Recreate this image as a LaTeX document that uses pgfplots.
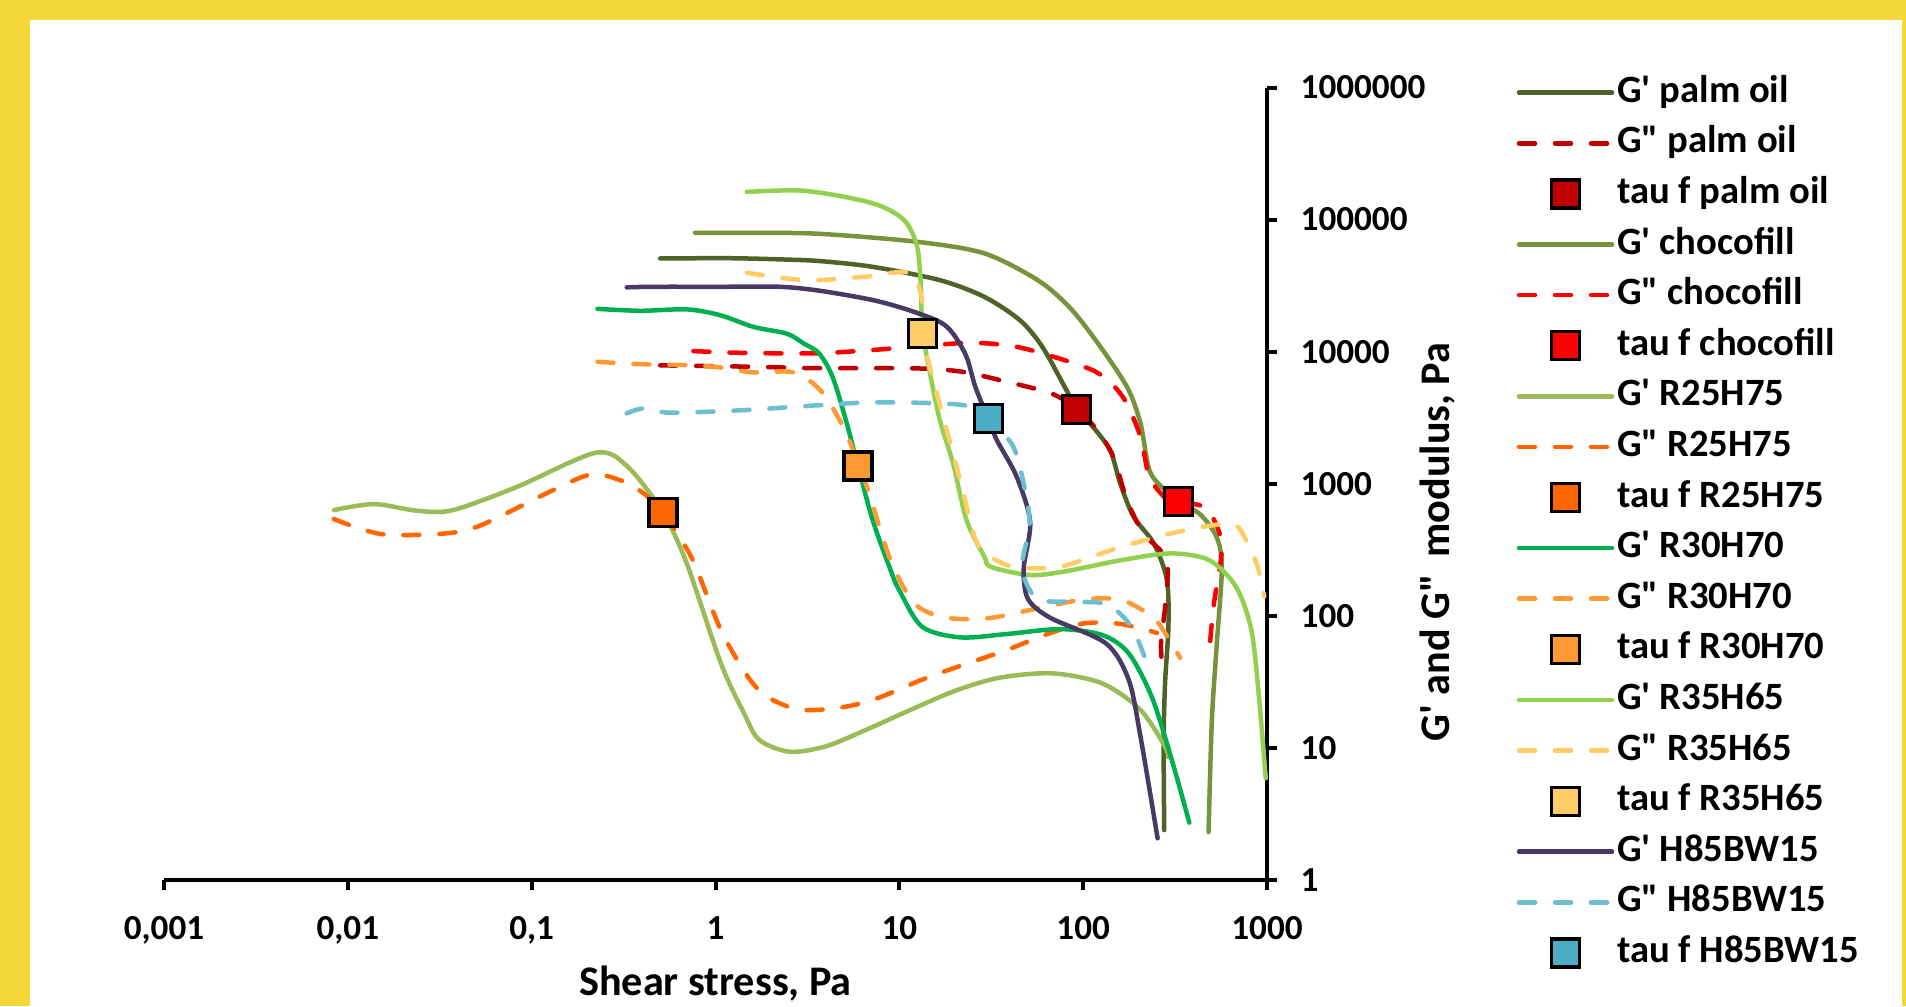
\documentclass[border=0pt]{standalone}
\usepackage{fontspec}
\setmainfont{Carlito}[Ligatures=TeXOff]
\usepackage{pgfplots}
\pgfplotsset{compat=1.18}

\definecolor{frame}{HTML}{F4D73A}
\definecolor{cPalm}{HTML}{4F6228}
\definecolor{cPalmD}{HTML}{C00000}
\definecolor{cChoco}{HTML}{77933C}
\definecolor{cChocoD}{HTML}{FF0000}
\definecolor{cRtwf}{HTML}{9BBB59}
\definecolor{cRtwfD}{HTML}{FF6600}
\definecolor{cRth}{HTML}{00B050}
\definecolor{cRthD}{HTML}{FF9933}
\definecolor{cRtf}{HTML}{92D050}
\definecolor{cRtfD}{HTML}{FFCC66}
\definecolor{cH}{HTML}{483A64}
\definecolor{cHD}{HTML}{6EBED2}
\definecolor{cHM}{HTML}{4BACC6}

\pgfplotsset{
  gp/.style={color=#1, line width=0.45mm, smooth, tension=0.5, no markers, line cap=round, line join=round},
  gpp/.style={color=#1, line width=0.45mm, smooth, tension=0.5, no markers, line cap=round, line join=round, dash pattern=on 1.6mm off 2.0mm},
  tau/.style={only marks, mark=square*, mark size=1.4mm,
    mark options={draw=black, fill=#1, line width=0.32mm, solid},
    legend image code/.code={\draw[mark repeat=2,mark phase=2,##1] plot coordinates {(0mm,0mm) (4.65mm,0mm) (9.3mm,0mm)};}},
}

\begin{document}
\begin{tikzpicture}
\path[use as bounding box] (0,0) rectangle (190.6mm,100.6mm);
\fill[frame] (0,0) rectangle (190.6mm,100.6mm);
\fill[white] (3mm,0) rectangle (190.2mm,98.6mm);
\begin{axis}[
  at={(16.4mm,12.6mm)}, anchor=south west,
  scale only axis, width=110.3mm, height=79.25mm,
  xmode=log, ymode=log,
  xmin=0.001, xmax=1000, ymin=1, ymax=1000000,
  axis x line=bottom, axis y line=right,
  axis line style={-, line width=0.4mm, black},
  xtick={0.001,0.01,0.1,1,10,100,1000},
  xticklabels={{0,001},{0,01},{0,1},1,10,100,1000},
  ytick={1,10,100,1000,10000,100000,1000000},
  yticklabels={1,10,100,1000,10000,100000,1000000},
  xminorticks=false, yminorticks=false,
  tick align=outside, major tick length=1mm,
  tick style={line width=0.4mm, black},
  ticklabel style={font=\fontsize{10}{12}\selectfont\bfseries},
  xticklabel style={anchor=north, inner sep=0pt, yshift=-2.6mm},
  yticklabel style={anchor=west, inner sep=0pt, xshift=2.3mm},
  xlabel={Shear stress, Pa},
  ylabel={G' and G"\, modulus, Pa},
  every axis x label/.style={at={(rel axis cs:0.5,0)}, anchor=center, yshift=-10.4mm,
    font=\fontsize{12}{14}\selectfont\bfseries},
  every axis y label/.style={at={(rel axis cs:1,0.4265)}, anchor=center, xshift=17.1mm, rotate=90,
    font=\fontsize{12}{14}\selectfont\bfseries},
  legend style={at={(axis description cs:1.2258,1.0164)}, anchor=north west,
    draw=none, fill=none, inner sep=0pt, row sep=1.56mm,
    font=\fontsize{11}{13}\selectfont\bfseries,
    nodes={inner sep=0pt, text height=2.7mm, text depth=0.8mm},
    /tikz/every odd column/.style={column sep=0.3mm}},
  legend cell align=left,
  legend image code/.code={\draw[mark repeat=2,mark phase=2,#1] plot coordinates {(0mm,0mm) (4.65mm,0mm) (9.3mm,0mm)};},
  clip=false,
]
% palm oil
\addplot[gp=cPalm] coordinates {(0.5,50800) (1.2,51000) (2.34,49900) (3.71,48500) (7.16,43900) (16.6,34800) (29.0,26000) (45.3,17300) (59.9,10900) (79.3,5420) (92.3,3675) (109,2866) (140,1799) (159,1007) (188,563) (242,354) (285,189) (291,84.7) (279,31.2) (274,11.5) (276,2.39)};
\addlegendentry{G' palm oil}
\addplot[gpp=cPalmD] coordinates {(0.5,7880) (1.61,7690) (3.41,7510) (12.5,7470) (21.9,7050) (38.3,5920) (67,4830) (92.3,3675) (119,2550) (146,1600) (173,753) (213,421) (285,264) (279,118) (265,60.8) (272,35.6)};
\addlegendentry{G" palm oil}
\addplot[tau=cPalmD] coordinates {(92.3,3675)};
\addlegendentry{tau f palm oil}
% chocofill
\addplot[gp=cChoco] coordinates {(0.774,79400) (1.61,79400) (3.71,78000) (12.5,67900) (29.0,55500) (56.6,34800) (83.7,21900) (117,12200) (173,5420) (205,2866) (229,1270) (272,923) (330,731) (433,587) (533,393) (568,230) (533,60.8) (501,16) (481,2.31)};
\addlegendentry{G' chocofill}
\addplot[gpp=cChocoD] coordinates {(0.759,10100) (1.36,9810) (3.41,9710) (7.16,10300) (21.9,11600) (38.3,11200) (59.9,9710) (117,7050) (164,4560) (205,2270) (229,1130) (287,753) (330,731) (452,670) (522,513) (568,321) (512,118) (481,46.5)};
\addlegendentry{G" chocofill}
\addplot[tau=cChocoD] coordinates {(330,731)};
\addlegendentry{tau f chocofill}
% R25H75
\addplot[gp=cRtwf] coordinates {(0.00841,632) (0.0139,702) (0.0238,625) (0.0373,632) (0.0834,949) (0.223,1717) (0.333,1345) (0.518,604) (0.697,250) (1.07,43.7) (1.43,18.3) (1.73,11.5) (2.54,9.36) (4.0,10.3) (6.5,13.6) (11.5,19.4) (20,27) (35,34) (67.9,36.7) (127,30.8) (205,19.4) (279,10.2) (290,8.5)};
\addlegendentry{G' R25H75}
\addplot[gpp=cRtwfD] coordinates {(0.0084,541) (0.0152,416) (0.0341,421) (0.0533,487) (0.131,896) (0.213,1178) (0.319,1036) (0.418,821) (0.518,604) (0.625,409) (0.767,250) (1.07,78) (1.50,34.6) (1.91,24.4) (2.80,19.6) (4.4,19.9) (7.13,23) (14.6,34.6) (38.2,55.1) (61.7,71.6) (100,87.6) (152,87.6) (213,79.3) (252,74.1)};
\addlegendentry{G" R25H75}
\addplot[tau=cRtwfD] coordinates {(0.518,604)};
\addlegendentry{tau f R25H75}
% R30H70
\addplot[gp=cRth] coordinates {(0.228,21100) (0.389,20400) (0.698,20900) (1.06,18900) (1.61,15400) (2.44,13700) (3.0,11600) (3.66,9710) (4.33,6460) (5.12,3035) (5.96,1361) (7.16,531) (8.96,222) (9.98,157) (13.3,82.7) (21.5,68.7) (38.2,72.8) (74.6,79.4) (127,71.6) (177,52) (236,24.4) (300,8.58) (378,2.72)};
\addlegendentry{G' R30H70}
\addplot[gpp=cRthD] coordinates {(0.228,8390) (0.373,8060) (0.698,7910) (1.06,7600) (1.61,6970) (2.66,6970) (3.71,5120) (4.84,2866) (5.89,1511) (6.76,896) (8.96,264) (12.1,124) (17.7,97.4) (30.1,95.7) (61.7,117) (104,134) (161,132) (225,104) (262,84.7) (337,48.1)};
\addlegendentry{G" R30H70}
\addplot[tau=cRthD] coordinates {(5.96,1361)};
\addlegendentry{tau f R30H70}
% R35H65
\addplot[gp=cRtf] coordinates {(1.48,162000) (3.09,165000) (7.16,133000) (10.6,99100) (12.5,62200) (13.1,31000) (13.2,19500) (13.4,13700) (14.8,6460) (16.6,3035) (19.6,1427) (23.2,531) (29,280) (31.5,235) (50.9,204) (78.3,216) (161,264) (300,297) (485,264) (678,166) (822,78.1) (904,24.4) (984,5.89)};
\addlegendentry{G' R35H65}
\addplot[gpp=cRtfD] coordinates {(1.48,39600) (3.09,34800) (6.40,36900) (11.2,39600) (13.2,26000) (13.4,13700) (14.8,7260) (18.5,2270) (21.9,949) (26,375) (31.5,280) (42,235) (74.6,235) (161,333) (367,449) (605,496) (714,449) (881,246) (966,140)};
\addlegendentry{G" R35H65}
\addplot[tau=cRtfD] coordinates {(13.3,13700)};
\addlegendentry{tau f R35H65}
% H85BW15
\addplot[gp=cH] coordinates {(0.329,30700) (0.459,31000) (1.06,31000) (2.24,31000) (3.71,28900) (7.16,24600) (11.2,20700) (16.6,16800) (19.6,13700) (23.2,9150) (25.9,5420) (30.4,3126) (33.9,2143) (43.5,1130) (51.5,513) (47.5,230) (50,135) (66,96.9) (133,61.9) (177,32.7) (205,12.2) (254,2.07)};
\addlegendentry{G' H85BW15}
\addplot[gpp=cHD] coordinates {(0.329,3410) (0.406,3720) (0.566,3450) (1.42,3610) (3.71,3940) (7.16,4130) (16.6,4060) (24.5,3830) (30.4,3126) (41.7,1906) (48.4,875) (51.1,480) (46.5,230) (56,135) (86.7,128) (135,122) (184,82) (222,43.5)};
\addlegendentry{G" H85BW15}
\addplot[tau=cHM] coordinates {(30.4,3126)};
\addlegendentry{tau f H85BW15}
\end{axis}
\end{tikzpicture}
\end{document}
